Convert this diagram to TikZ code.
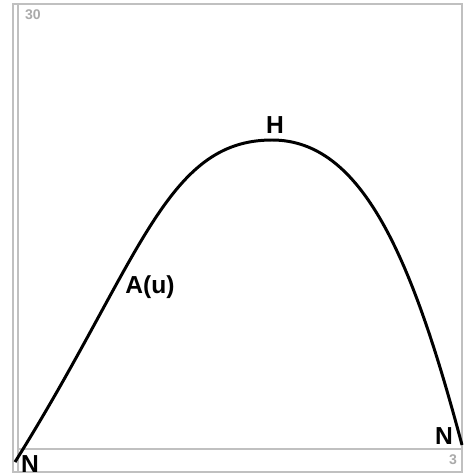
\documentclass[tikz,border=0pt]{standalone}
\usepackage{fontspec}
\setmainfont{Liberation Sans}
\usetikzlibrary{math}
\definecolor{framegray}{RGB}{192,192,192}
\definecolor{ticktext}{RGB}{170,170,170}

\begin{document}
\begin{tikzpicture}[x=0.02cm,y=-0.02cm]
\tikzmath{
\W=464;
\H=476;
\xa=18;
\ya=449;
}
\useasboundingbox (0,0) rectangle (\W,\H);
%frame
\draw[framegray, line width=1.2pt] (13,4) rectangle (462,472);
%axis
\draw[framegray, line width=1.2pt] (\xa,4) -- (\xa,472);
\draw[framegray, line width=1.2pt] (\xa,\ya) -- (462,\ya);
\node[ticktext, font=\bfseries\fontsize{8}{9}\selectfont] (ymax) at (33,15) {30};
\node[ticktext, font=\bfseries\fontsize{8}{9}\selectfont] (xmax) at (453,460) {3};
%curve
\draw[line width=1.7pt] (15,462) .. controls (140,262) and (165,140) .. (272,140)
  .. controls (362,140) and (412,257) .. (462,445);
%labels
\node[font=\bfseries\fontsize{14}{16}\selectfont] (top) at (275,125) {H};
\node[font=\bfseries\fontsize{14}{16}\selectfont] (curve) at (150,287) {A(u)};
\node[font=\bfseries\fontsize{14}{16}\selectfont] (start) at (30,464) {N};
\node[font=\bfseries\fontsize{14}{16}\selectfont] (end) at (444,436) {N};
\end{tikzpicture}
\end{document}
